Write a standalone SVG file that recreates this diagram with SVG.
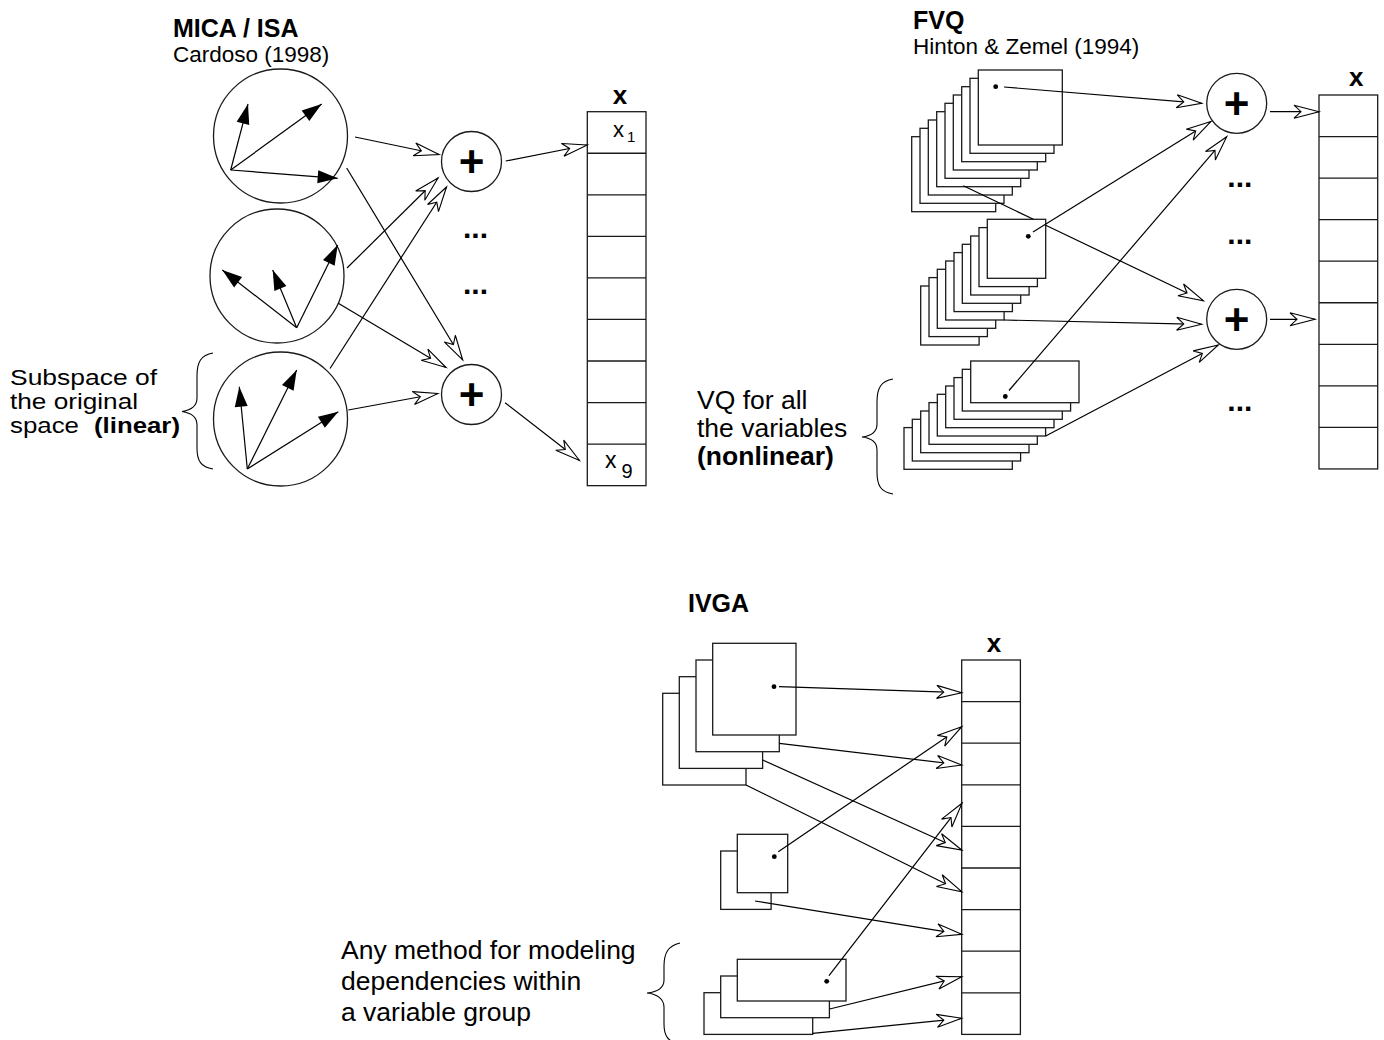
<svg xmlns="http://www.w3.org/2000/svg" xmlns:xlink="http://www.w3.org/1999/xlink" width="1384" height="1040" viewBox="0 0 1384 1040">
<style>
text{font-family:"Liberation Sans",Arial,Helvetica,sans-serif;fill:#000}
.t{font-size:25px;font-weight:bold}
.st{font-size:22.5px}
.lb{font-size:26.5px}
.lbs{font-size:21.5px}
.b{font-weight:bold}
.vx{font-size:26px;font-weight:bold}
.dots{font-size:30px;font-weight:bold}
.pl{font-size:44px;font-weight:bold}
.ln{fill:none;stroke:#000;stroke-width:1.2}
.oa{marker-end:url(#open)}
.fa{marker-end:url(#solid)}
.nd{fill:#fff;stroke:#1a1a1a;stroke-width:1.3}
.cel{fill:none;stroke:#1a1a1a;stroke-width:1.3}
.br{fill:none;stroke:#000;stroke-width:1.1}
.dot{fill:#000}
</style>
<defs>
<marker id="open" markerUnits="userSpaceOnUse" orient="auto" overflow="visible" refX="0" refY="0" markerWidth="30" markerHeight="14">
<path d="M0,0 L-25,-6.5 L-18,0 L-25,6.5 Z" fill="#fff" stroke="#000" stroke-width="1.1" stroke-linejoin="miter"/>
</marker>
<marker id="solid" markerUnits="userSpaceOnUse" orient="auto" overflow="visible" refX="0" refY="0" markerWidth="22" markerHeight="14">
<path d="M0,0 L-20,-6.5 L-20,6.5 Z" fill="#000" stroke="none"/>
</marker>
<rect id="fq1" width="84" height="75" class="nd"/>
<rect id="fq2" width="58.4" height="59" class="nd"/>
<rect id="fq3" width="108.3" height="41.7" class="nd"/>
<rect id="iv1" width="83.3" height="91.7" class="nd"/>
<rect id="iv2" width="50.4" height="58.4" class="nd"/>
<rect id="iv3" width="108.7" height="41.7" class="nd"/>
</defs>
<rect width="1384" height="1040" fill="#fff"/>

<!-- MICA / ISA -->
<g id="mica-title">
<text class="t" x="173" y="36.5">MICA / ISA</text>
<text class="st" x="173" y="61.5">Cardoso (1998)</text>
</g>
<g id="mica-c1">
<circle cx="280.5" cy="136" r="67" class="nd"/>
<line class="ln fa" x1="230.7" y1="170" x2="248" y2="104"/>
<line class="ln fa" x1="230.7" y1="170" x2="321.7" y2="104"/>
<line class="ln fa" x1="230.7" y1="170" x2="337.7" y2="178.3"/>
</g>
<g id="mica-c2">
<circle cx="277" cy="276" r="67" class="nd"/>
<line class="ln fa" x1="296.7" y1="327.7" x2="222.3" y2="270"/>
<line class="ln fa" x1="296.7" y1="327.7" x2="272.7" y2="270"/>
<line class="ln fa" x1="296.7" y1="327.7" x2="337.7" y2="245"/>
</g>
<g id="mica-c3">
<circle cx="280.5" cy="419" r="67" class="nd"/>
<line class="ln fa" x1="247.3" y1="469" x2="239.3" y2="386.7"/>
<line class="ln fa" x1="247.3" y1="469" x2="296.7" y2="370"/>
<line class="ln fa" x1="247.3" y1="469" x2="338.3" y2="411.7"/>
</g>
<g id="mica-note">
<path class="br" d="M213,353 C201,355 197,362 197,376 L197,398 C197,406 192,410 182,411.5 C192,413 197,417 197,425 L197,448 C197,461 201,467 213,469"/>
<text class="lbs" x="10" y="385" textLength="147" lengthAdjust="spacingAndGlyphs">Subspace of</text>
<text class="lbs" x="10" y="409.2" textLength="128" lengthAdjust="spacingAndGlyphs">the original</text>
<text class="lbs" x="10" y="433.4"><tspan textLength="69" lengthAdjust="spacingAndGlyphs">space</tspan> <tspan class="b" x="94" textLength="86" lengthAdjust="spacingAndGlyphs">(linear)</tspan></text>
</g>
<g id="mica-plus1">
<circle cx="471.5" cy="161.5" r="30" class="nd"/>
<text class="pl" x="471.5" y="177" text-anchor="middle">+</text>
</g>
<g id="mica-plus2">
<circle cx="471.5" cy="394.5" r="30" class="nd"/>
<text class="pl" x="471.5" y="410" text-anchor="middle">+</text>
</g>
<g id="mica-dots">
<text class="dots" x="463" y="237.7">...</text>
<text class="dots" x="463" y="294.3">...</text>
</g>
<g id="mica-x">
<text class="vx" x="620" y="104" text-anchor="middle">x</text>
<rect class="cel" x="587.3" y="111.7" width="58.7" height="373.95"/>
<path class="cel" d="M587.3,153.25H646M587.3,194.8H646M587.3,236.35H646M587.3,277.9H646M587.3,319.45H646M587.3,361H646M587.3,402.55H646M587.3,444.1H646"/>
<text x="613" y="136.7" font-size="22">x<tspan x="627" y="142" font-size="15">1</tspan></text>
<text x="605" y="468" font-size="23">x <tspan x="621.5" y="478" font-size="20">9</tspan></text>
</g>

<!-- FVQ -->
<g id="fvq-title">
<text class="t" x="913" y="28.5">FVQ</text>
<text class="st" x="913" y="53.5">Hinton &amp; Zemel (1994)</text>
</g>
<g id="fvq-s1">
<use xlink:href="#fq1" x="911.7" y="136.7"/>
<use xlink:href="#fq1" x="920" y="128.3"/>
<use xlink:href="#fq1" x="928.3" y="120"/>
<use xlink:href="#fq1" x="936.7" y="111.7"/>
<use xlink:href="#fq1" x="945" y="103.3"/>
<use xlink:href="#fq1" x="953.3" y="95"/>
<use xlink:href="#fq1" x="961.7" y="86.7"/>
<use xlink:href="#fq1" x="970" y="78.3"/>
<use xlink:href="#fq1" x="978.3" y="70"/>
<circle class="dot" cx="995.7" cy="86.7" r="2.4"/>
</g>
<g id="fvq-s2">
<use xlink:href="#fq2" x="920.7" y="286"/>
<use xlink:href="#fq2" x="929" y="277.6"/>
<use xlink:href="#fq2" x="937.3" y="269.3"/>
<use xlink:href="#fq2" x="945.7" y="261"/>
<use xlink:href="#fq2" x="954" y="252.6"/>
<use xlink:href="#fq2" x="962.3" y="244.3"/>
<use xlink:href="#fq2" x="970.7" y="236"/>
<use xlink:href="#fq2" x="979" y="227.6"/>
<use xlink:href="#fq2" x="987.3" y="219.3"/>
<circle class="dot" cx="1028.3" cy="236.3" r="2.4"/>
</g>
<g id="fvq-s3">
<use xlink:href="#fq3" x="904" y="427.6"/>
<use xlink:href="#fq3" x="912.3" y="419.3"/>
<use xlink:href="#fq3" x="920.7" y="411"/>
<use xlink:href="#fq3" x="929" y="402.6"/>
<use xlink:href="#fq3" x="937.3" y="394.3"/>
<use xlink:href="#fq3" x="945.7" y="386"/>
<use xlink:href="#fq3" x="954" y="377.6"/>
<use xlink:href="#fq3" x="962.3" y="369.3"/>
<use xlink:href="#fq3" x="970.7" y="361"/>
<circle class="dot" cx="1005.3" cy="396.5" r="2.4"/>
</g>
<g id="fvq-note">
<path class="br" d="M893,379 C881,381 877,388 877,402 L877,424 C877,432 871,436 862,437 C871,438 877,442 877,450 L877,472 C877,486 881,492 893,494"/>
<text class="lb" x="697" y="409">VQ for all</text>
<text class="lb" x="697" y="437">the variables</text>
<text class="lb b" x="697" y="465">(nonlinear)</text>
</g>
<g id="fvq-plus1">
<circle cx="1236.7" cy="103.3" r="30" class="nd"/>
<text class="pl" x="1236.7" y="118.8" text-anchor="middle">+</text>
</g>
<g id="fvq-plus2">
<circle cx="1236.7" cy="319.3" r="30" class="nd"/>
<text class="pl" x="1236.7" y="334.8" text-anchor="middle">+</text>
</g>
<g id="fvq-dots">
<text class="dots" x="1227.3" y="187.3">...</text>
<text class="dots" x="1227.3" y="244.3">...</text>
<text class="dots" x="1227.3" y="411">...</text>
</g>
<g id="fvq-x">
<text class="vx" x="1349" y="86">x</text>
<rect class="cel" x="1319" y="95" width="58.7" height="373.95"/>
<path class="cel" d="M1319,136.55H1377.7M1319,178.1H1377.7M1319,219.65H1377.7M1319,261.2H1377.7M1319,302.75H1377.7M1319,344.3H1377.7M1319,385.85H1377.7M1319,427.4H1377.7"/>
</g>

<!-- IVGA -->
<g id="ivga-title">
<text class="t" x="688" y="611.7" font-size="26">IVGA</text>
</g>
<g id="ivga-s1">
<use xlink:href="#iv1" x="662.7" y="693.3"/>
<use xlink:href="#iv1" x="679.3" y="676.7"/>
<use xlink:href="#iv1" x="696" y="660"/>
<use xlink:href="#iv1" x="712.7" y="643.3"/>
<circle class="dot" cx="774" cy="686.7" r="2.4"/>
</g>
<g id="ivga-s2">
<use xlink:href="#iv2" x="720.7" y="851"/>
<use xlink:href="#iv2" x="737.3" y="834.3"/>
<circle class="dot" cx="774.3" cy="856.7" r="2.4"/>
</g>
<g id="ivga-s3">
<use xlink:href="#iv3" x="704" y="992.7"/>
<use xlink:href="#iv3" x="720.7" y="976"/>
<use xlink:href="#iv3" x="737.3" y="959.3"/>
<circle class="dot" cx="826.7" cy="981.3" r="2.4"/>
</g>
<g id="ivga-note">
<path class="br" d="M680,943 C668,946 664,953 664,966 L664,980 C664,988 657,992 647,993 C657,994 664,999 664,1007 L664,1024 C664,1036 668,1041 678,1044"/>
<text class="lb" x="341" y="959">Any method for modeling</text>
<text class="lb" x="341" y="990">dependencies within</text>
<text class="lb" x="341" y="1021">a variable group</text>
</g>
<g id="ivga-x">
<text class="vx" x="994" y="652" text-anchor="middle">x</text>
<rect class="cel" x="961.7" y="660" width="58.7" height="374.4"/>
<path class="cel" d="M961.7,701.6H1020.4M961.7,743.2H1020.4M961.7,784.8H1020.4M961.7,826.4H1020.4M961.7,868H1020.4M961.7,909.6H1020.4M961.7,951.2H1020.4M961.7,992.8H1020.4"/>
</g>

<g id="connectors">
<line class="ln oa" x1="355" y1="137" x2="439" y2="154.5"/>
<line class="ln oa" x1="346.7" y1="168" x2="462.7" y2="360"/>
<line class="ln oa" x1="347" y1="268" x2="438" y2="178"/>
<line class="ln oa" x1="330" y1="368.5" x2="446.5" y2="187"/>
<line class="ln oa" x1="338.3" y1="303.3" x2="446" y2="367.5"/>
<line class="ln oa" x1="348.3" y1="410" x2="438" y2="393.5"/>
<line class="ln oa" x1="505.7" y1="161" x2="587.3" y2="145"/>
<line class="ln oa" x1="505" y1="402.7" x2="579.5" y2="460.5"/>

<line class="ln oa" x1="1004" y1="87" x2="1201.7" y2="103.3"/>
<line class="ln oa" x1="1033" y1="232" x2="1211" y2="121.5"/>
<line class="ln oa" x1="1009" y1="390.5" x2="1226.7" y2="136.7"/>
<path class="ln oa" d="M963.3,185.7 L1033.4,219.3 M1045.7,225.2 L1203.3,300.7"/>
<line class="ln oa" x1="1004" y1="320" x2="1201.7" y2="324.3"/>
<line class="ln oa" x1="1045.7" y1="436" x2="1218.3" y2="345"/>
<line class="ln oa" x1="1270" y1="111.7" x2="1319" y2="111.7"/>
<line class="ln oa" x1="1270" y1="319.3" x2="1315" y2="319.3"/>

<line class="ln oa" x1="779" y1="686.6" x2="961.7" y2="692.7"/>
<line class="ln oa" x1="779.3" y1="743.3" x2="961.7" y2="765"/>
<line class="ln oa" x1="762.7" y1="760" x2="961.7" y2="850"/>
<line class="ln oa" x1="746" y1="785" x2="961.7" y2="891.7"/>
<line class="ln oa" x1="778.3" y1="851.7" x2="961.7" y2="726.7"/>
<line class="ln oa" x1="755" y1="901" x2="961.7" y2="934.3"/>
<line class="ln oa" x1="829" y1="975.7" x2="962" y2="803.3"/>
<line class="ln oa" x1="829.7" y1="1009" x2="961.7" y2="976.7"/>
<line class="ln oa" x1="812.7" y1="1033.3" x2="961.7" y2="1018.3"/>
</g>
</svg>
